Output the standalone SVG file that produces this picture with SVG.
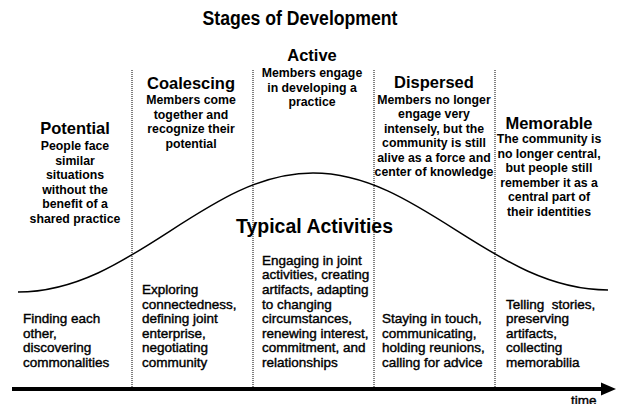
<svg xmlns="http://www.w3.org/2000/svg" width="618" height="404" viewBox="0 0 618 404">
<style>
  .title{font-family:"Liberation Sans",Arial,sans-serif;font-size:20px;font-weight:bold;text-anchor:middle;fill:#000}
  .head{font-family:"Liberation Sans",Arial,sans-serif;font-size:16.5px;font-weight:bold;text-anchor:middle;fill:#000}
  .desc{font-family:"Liberation Sans",Arial,sans-serif;font-size:12.3px;font-weight:bold;text-anchor:middle;fill:#000}
  .act{font-family:"Liberation Sans",Arial,sans-serif;font-size:13.5px;fill:#000;stroke:#000;stroke-width:0.4}
  .sub{font-family:"Liberation Sans",Arial,sans-serif;font-size:20px;font-weight:bold;text-anchor:middle;fill:#000}
  .div{stroke:#000;stroke-width:1;stroke-dasharray:1 1;fill:none}
</style>
<rect width="618" height="404" fill="#fff"/>
<text class="title" x="300" y="25" textLength="195" lengthAdjust="spacingAndGlyphs">Stages of Development</text>

<g id="dividers">
  <line class="div" x1="132" y1="70" x2="132" y2="387"/>
  <line class="div" x1="253" y1="70" x2="253" y2="387"/>
  <line class="div" x1="374" y1="70" x2="374" y2="387"/>
  <line class="div" x1="495" y1="70" x2="495" y2="387"/>
</g>

<g id="connectors">
  <path d="M18,292 C132,292 205,173 313,173 C421,173 494,290 608,290" fill="none" stroke="#000" stroke-width="1.5"/>
  <line x1="12" y1="389" x2="604" y2="389" stroke="#000" stroke-width="4"/>
  <polygon points="601,382.5 616,389 601,395.5" fill="#000"/>
</g>

<g id="potential">
  <text class="head" x="75" y="134">Potential</text>
  <text class="desc" x="75" y="150">People face</text>
  <text class="desc" x="75" y="164.6">similar</text>
  <text class="desc" x="75" y="179.2">situations</text>
  <text class="desc" x="75" y="193.8">without the</text>
  <text class="desc" x="75" y="208.4">benefit of a</text>
  <text class="desc" x="75" y="223">shared practice</text>
</g>

<g id="coalescing">
  <text class="head" x="191" y="89">Coalescing</text>
  <text class="desc" x="191" y="104">Members come</text>
  <text class="desc" x="191" y="118.5">together and</text>
  <text class="desc" x="191" y="133">recognize their</text>
  <text class="desc" x="191" y="147.5">potential</text>
</g>

<g id="active">
  <text class="head" x="312" y="61">Active</text>
  <text class="desc" x="312" y="77">Members engage</text>
  <text class="desc" x="312" y="91.5">in developing a</text>
  <text class="desc" x="312" y="106">practice</text>
</g>

<g id="dispersed">
  <text class="head" x="434" y="88">Dispersed</text>
  <text class="desc" x="434" y="103.5">Members no longer</text>
  <text class="desc" x="434" y="118">engage very</text>
  <text class="desc" x="434" y="132.5">intensely, but the</text>
  <text class="desc" x="434" y="147">community is still</text>
  <text class="desc" x="434" y="161.5">alive as a force and</text>
  <text class="desc" x="434" y="176">center of knowledge</text>
</g>

<g id="memorable">
  <text class="head" x="549" y="129">Memorable</text>
  <text class="desc" x="549" y="143">The community is</text>
  <text class="desc" x="549" y="157.6">no longer central,</text>
  <text class="desc" x="549" y="172.2">but people still</text>
  <text class="desc" x="549" y="186.8">remember it as a</text>
  <text class="desc" x="549" y="201.4">central part of</text>
  <text class="desc" x="549" y="216">their identities</text>
</g>

<g id="typical-activities">
  <text class="sub" x="314.5" y="233" textLength="157" lengthAdjust="spacingAndGlyphs">Typical Activities</text>
</g>

<g id="act-potential">
  <text class="act" x="23" y="323.2">Finding each</text>
  <text class="act" x="23" y="337.8">other,</text>
  <text class="act" x="23" y="352.4">discovering</text>
  <text class="act" x="23" y="367">commonalities</text>
</g>

<g id="act-coalescing">
  <text class="act" x="142" y="294">Exploring</text>
  <text class="act" x="142" y="308.6">connectedness,</text>
  <text class="act" x="142" y="323.2">defining joint</text>
  <text class="act" x="142" y="337.8">enterprise,</text>
  <text class="act" x="142" y="352.4">negotiating</text>
  <text class="act" x="142" y="367">community</text>
</g>

<g id="act-active">
  <text class="act" x="262" y="264.8">Engaging in joint</text>
  <text class="act" x="262" y="279.4">activities, creating</text>
  <text class="act" x="262" y="294">artifacts, adapting</text>
  <text class="act" x="262" y="308.6">to changing</text>
  <text class="act" x="262" y="323.2">circumstances,</text>
  <text class="act" x="262" y="337.8">renewing interest,</text>
  <text class="act" x="262" y="352.4">commitment, and</text>
  <text class="act" x="262" y="367">relationships</text>
</g>

<g id="act-dispersed">
  <text class="act" x="382" y="323.2">Staying in touch,</text>
  <text class="act" x="382" y="337.8">communicating,</text>
  <text class="act" x="382" y="352.4">holding reunions,</text>
  <text class="act" x="382" y="367">calling for advice</text>
</g>

<g id="act-memorable">
  <text class="act" x="506" y="308.6" xml:space="preserve">Telling  stories,</text>
  <text class="act" x="506" y="323.2">preserving</text>
  <text class="act" x="506" y="337.8">artifacts,</text>
  <text class="act" x="506" y="352.4">collecting</text>
  <text class="act" x="506" y="367">memorabilia</text>
</g>

<g id="time-label">
  <text class="act" x="571" y="405">time</text>
</g>
</svg>
